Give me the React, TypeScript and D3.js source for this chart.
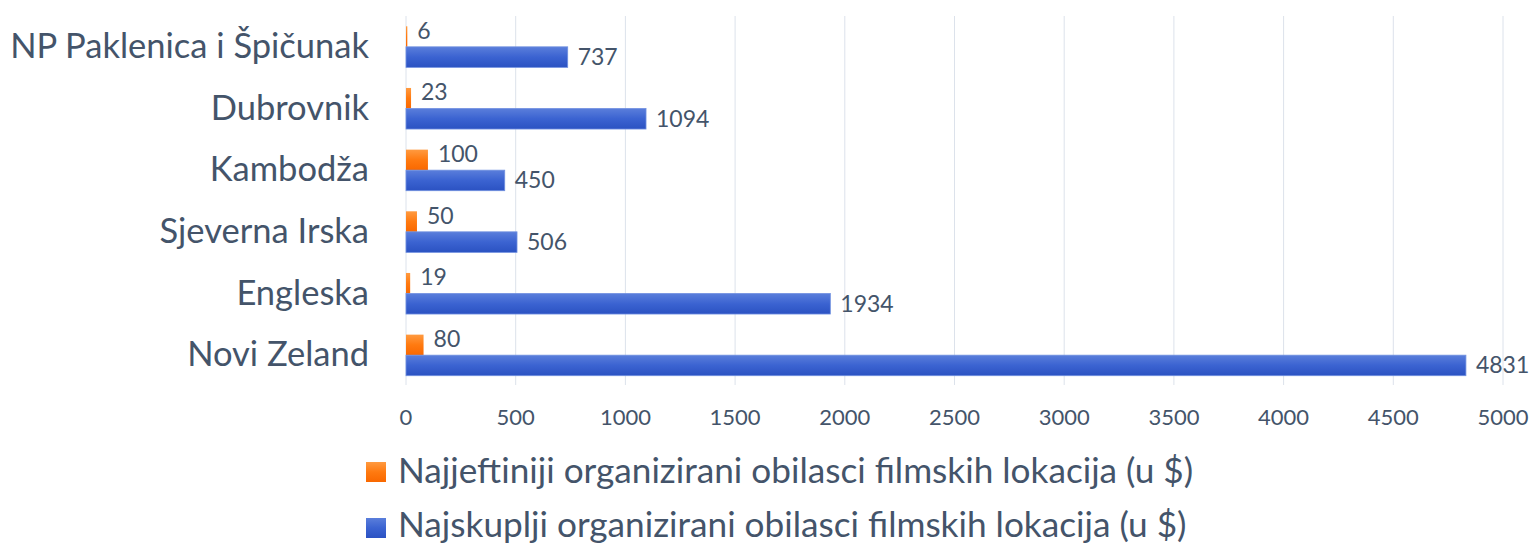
import React from "react";
import * as d3 from "d3";

const categories = [
  "NP Paklenica i Špičunak",
  "Dubrovnik",
  "Kambodža",
  "Sjeverna Irska",
  "Engleska",
  "Novi Zeland",
];
const cheapest = [6, 23, 100, 50, 19, 80];
const priciest = [737, 1094, 450, 506, 1934, 4831];
const xTicks = [0, 500, 1000, 1500, 2000, 2500, 3000, 3500, 4000, 4500, 5000];
const seriesNames = [
  "Najjeftiniji organizirani obilasci filmskih lokacija (u $)",
  "Najskuplji organizirani obilasci filmskih lokacija (u $)",
];

const W = 1532;
const H = 543;
const TEXT = "#44546A";
const FONT = "Lato, 'Open Sans', sans-serif";

export default function App() {
  const x = d3.scaleLinear().domain([0, 5000]).range([406, 1503]);
  const y = d3
    .scaleBand<string>()
    .domain(categories)
    .range([16, 386])
    .paddingInner(0.334)
    .paddingOuter(0.167);
  const bw = y.bandwidth();
  const half = bw / 2;
  const gridTop = 16;
  const gridBottom = 385;

  return (
    <svg
      width={W}
      height={H}
      style={{ position: "absolute", left: 0, top: 0, background: "#fff" }}
      fontFamily={FONT}
    >
      <defs>
        <linearGradient id="gBlue" x1="0" y1="0" x2="0" y2="1">
          <stop offset="0" stopColor="#5a7edb" />
          <stop offset="0.5" stopColor="#3b63d1" />
          <stop offset="1" stopColor="#2b52c2" />
        </linearGradient>
        <linearGradient id="gOrange" x1="0" y1="0" x2="0" y2="1">
          <stop offset="0" stopColor="#ff9a40" />
          <stop offset="0.5" stopColor="#ff7a10" />
          <stop offset="1" stopColor="#f96800" />
        </linearGradient>
      </defs>
      {xTicks.map((t) => (
        <line
          key={"g" + t}
          x1={x(t)}
          x2={x(t)}
          y1={gridTop}
          y2={gridBottom}
          stroke="#dce2eb"
          strokeWidth={1}
        />
      ))}
      {xTicks.map((t) => (
        <text
          key={"t" + t}
          x={x(t)}
          y={425}
          textAnchor="middle"
          fontSize={22}
          fill={TEXT}
        >
          {t}
        </text>
      ))}
      {categories.map((c) => (
        <text
          key={"c" + c}
          x={369}
          y={(y(c) as number) + half + 11}
          textAnchor="end"
          fontSize={34.5}
          fill={TEXT}
        >
          {c}
        </text>
      ))}
      {categories.map((c, i) => {
        const top = y(c) as number;
        return (
          <g key={"b" + c}>
            <rect
              x={x(0)}
              y={top}
              width={x(cheapest[i]) - x(0)}
              height={half}
              fill="url(#gOrange)"
            />
            <rect
              x={x(0)}
              y={top + half}
              width={x(priciest[i]) - x(0)}
              height={half}
              fill="url(#gBlue)"
              stroke="#7090e0"
              strokeWidth={0.8}
            />
            <text
              x={x(cheapest[i]) + 10}
              y={top + half / 2 + 2}
              fontSize={23}
              fill={TEXT}
            >
              {cheapest[i]}
            </text>
            <text
              x={x(priciest[i]) + 10}
              y={top + half + half / 2 + 8}
              fontSize={23}
              fill={TEXT}
            >
              {priciest[i]}
            </text>
          </g>
        );
      })}
      {seriesNames.map((s, i) => (
        <g key={"l" + i}>
          <rect
            x={366}
            y={462 + i * 56}
            width={20}
            height={20}
            fill={i === 0 ? "url(#gOrange)" : "url(#gBlue)"}
          />
          <text x={398} y={483 + i * 54} fontSize={35.2} fill={TEXT}>
            {s}
          </text>
        </g>
      ))}
    </svg>
  );
}
